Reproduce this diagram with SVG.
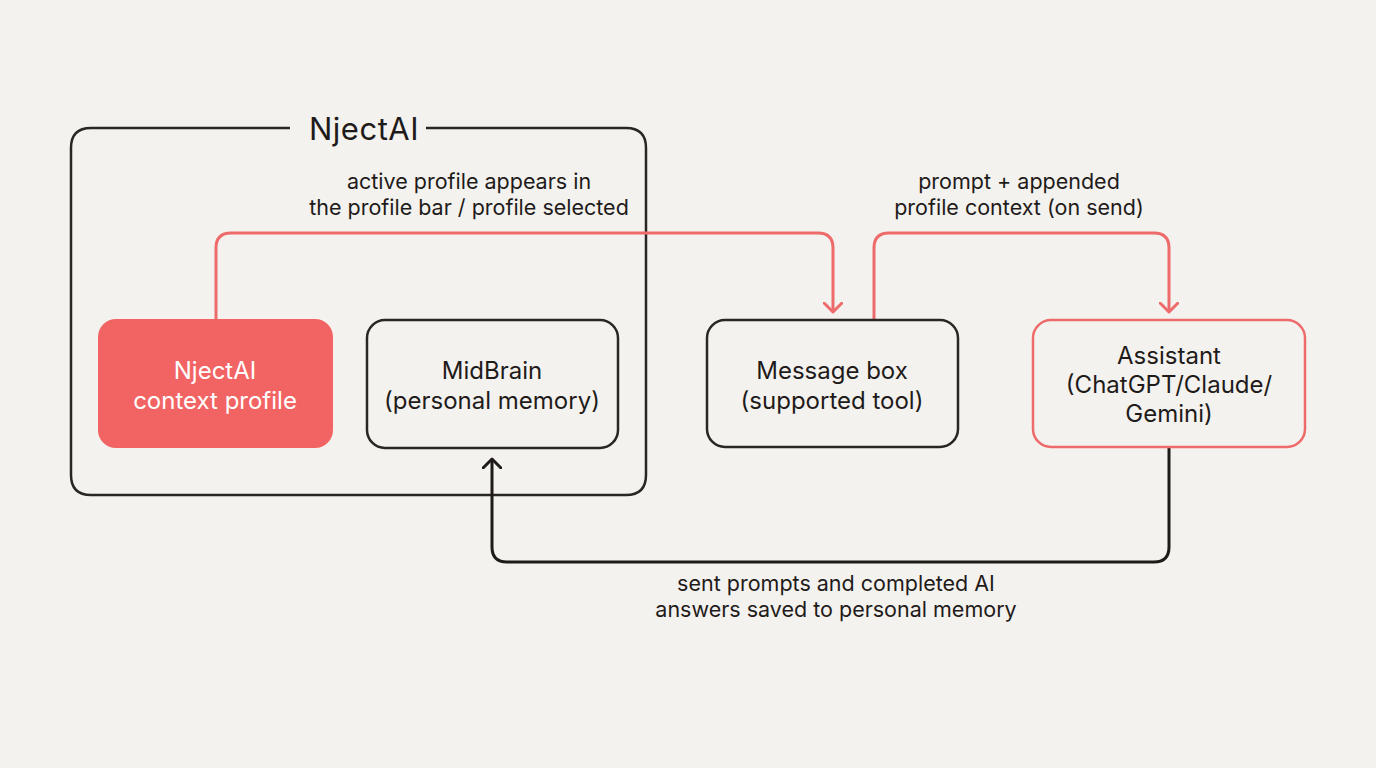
<svg xmlns="http://www.w3.org/2000/svg" width="1376" height="768" viewBox="0 0 1376 768">
<defs>
<style>
text{font-family:Inter,"Noto Sans","Liberation Sans",sans-serif;text-anchor:middle;}
.lbl{font-size:21.5px;fill:#1f1b1a;}
.node{font-size:24px;fill:#1f1b1a;}
.white{fill:#ffffff;}
.dark{fill:none;stroke:#2a2624;stroke-width:2.5;}
.red{fill:none;stroke:#ee6b6b;stroke-width:2.5;}
.conn-red{fill:none;stroke:#ee6b6b;stroke-width:3;stroke-linejoin:round;}
.conn-dark{fill:none;stroke:#1f1b1a;stroke-width:3;stroke-linejoin:round;}
</style>
<marker id="arrRed" viewBox="0 0 20 20" refX="10" refY="10" markerWidth="20" markerHeight="20" markerUnits="userSpaceOnUse" orient="auto">
<path d="M1,1 L10,10 L1,19" fill="none" stroke="#ee6b6b" stroke-width="3" stroke-linecap="round" stroke-linejoin="round"/>
</marker>
<marker id="arrDark" viewBox="0 0 20 20" refX="10" refY="10" markerWidth="20" markerHeight="20" markerUnits="userSpaceOnUse" orient="auto">
<path d="M1,1 L10,10 L1,19" fill="none" stroke="#1f1b1a" stroke-width="3" stroke-linecap="round" stroke-linejoin="round"/>
</marker>
</defs>
<rect width="1376" height="768" fill="#f4f2ee"/>

<g id="njectai-frame">
<path class="dark" d="M290,128 L91,128 Q71,128 71,148 L71,475 Q71,495 91,495 L626,495 Q646,495 646,475 L646,148 Q646,128 626,128 L426,128"/>
<text x="364" y="140" style="font-size:31px;fill:#1f1b1a;letter-spacing:0.5px">NjectAI</text>
</g>

<g id="connectors">
<path class="conn-red" d="M216,319 L216,248 Q216,233 231,233 L818,233 Q833,233 833,248 L833,312" marker-end="url(#arrRed)"/>
<path class="conn-red" d="M874,320 L874,248 Q874,233 889,233 L1154,233 Q1169,233 1169,248 L1169,312" marker-end="url(#arrRed)"/>
<path class="conn-dark" d="M1169,448 L1169,547 Q1169,562 1154,562 L507,562 Q492,562 492,547 L492,459" marker-end="url(#arrDark)"/>
<text class="lbl" x="469" y="189">active profile appears in</text>
<text class="lbl" x="469" y="215">the profile bar / profile selected</text>
<text class="lbl" x="1019" y="189">prompt + appended</text>
<text class="lbl" x="1019" y="215">profile context (on send)</text>
<text class="lbl" x="836" y="591">sent prompts and completed AI</text>
<text class="lbl" x="836" y="617">answers saved to personal memory</text>
</g>

<g id="context-profile">
<rect x="98" y="319" width="235" height="129" rx="18" fill="#f26463"/>
<text class="node white" x="215" y="379">NjectAI</text>
<text class="node white" x="215" y="409">context profile</text>
</g>

<g id="midbrain">
<rect class="dark" x="367" y="320" width="251" height="128" rx="18"/>
<text class="node" x="492" y="379">MidBrain</text>
<text class="node" x="492" y="409">(personal memory)</text>
</g>

<g id="message-box">
<rect class="dark" x="707" y="320" width="251" height="127" rx="18"/>
<text class="node" x="832" y="379">Message box</text>
<text class="node" x="832" y="409">(supported tool)</text>
</g>

<g id="assistant">
<rect class="red" x="1033" y="320" width="272" height="127" rx="18"/>
<text class="node" x="1169" y="364">Assistant</text>
<text class="node" x="1169" y="393">(ChatGPT/Claude/</text>
<text class="node" x="1169" y="422">Gemini)</text>
</g>
</svg>
